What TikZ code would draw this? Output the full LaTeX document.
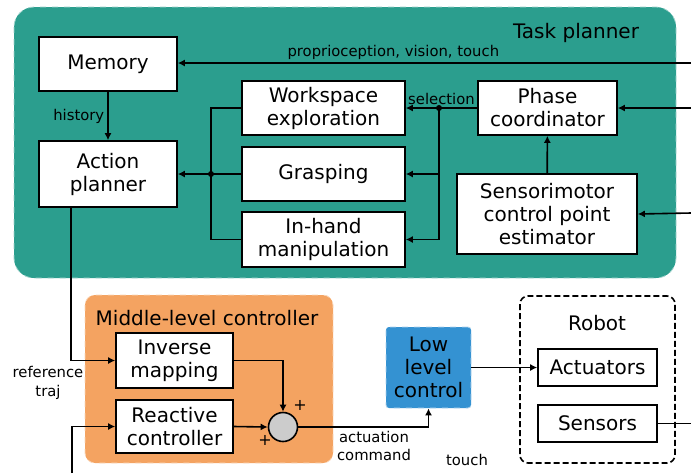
\documentclass[tikz,border=0pt]{standalone}
\usepackage{fontspec}
\setmainfont{DejaVu Sans}
\usetikzlibrary{arrows.meta}
\definecolor{taskgreen}{RGB}{43,158,142}
\definecolor{midorange}{RGB}{244,163,97}
\definecolor{lowblue}{RGB}{52,146,210}

\begin{document}
\begin{tikzpicture}
[x=0.5pt,y=-0.5pt,
every node/.style={align=center,font=\fontsize{10}{11.5}\selectfont},
block/.style={shape=rectangle,draw,fill=white,line width=0.8pt,inner sep=0pt},
lbl/.style={font=\fontsize{7.4}{9.2}\selectfont,inner sep=1.5pt},
link/.style={line width=0.8pt,-{Latex[length=3.5pt,width=3.5pt]}},
wire/.style={line width=0.8pt},
junction/.style={circle,fill,inner sep=0pt,minimum size=3pt}]

\useasboundingbox (0,0) rectangle (691,473);

% containers
\path[fill=taskgreen,draw=white!55!taskgreen,dashed,line width=0.4pt,rounded corners=10pt]
  (14,7) rectangle (676,278);
\path[fill=midorange,draw=white!55!midorange,dashed,line width=0.4pt,rounded corners=5pt]
  (85,295) rectangle (333,463);
\draw[line width=0.8pt,dash pattern=on 3pt off 1.5pt,rounded corners=4pt]
  (520,296) rectangle (675,463);
\node (tasktitle) at (576,33) {Task planner};
\node (midtitle) at (207,318) {Middle-level controller};
\node (robtitle) at (597,323) {Robot};

% task planner
\node[block,minimum width=69pt,minimum height=27pt] (mem) at (108,64) {Memory};
\node[block,minimum width=69pt,minimum height=33pt] (act) at (108,174) {Action\\planner};
\node[block,minimum width=81.5pt,minimum height=27pt] (ws) at (323.5,108) {Workspace\\exploration};
\node[block,minimum width=81.5pt,minimum height=27pt] (gr) at (323.5,174) {Grasping};
\node[block,minimum width=81.5pt,minimum height=27.5pt] (inh) at (323.5,239.5) {In-hand\\manipulation};
\node[block,minimum width=69.5pt,minimum height=27pt] (ph) at (547.5,108) {Phase\\coordinator};
\node[block,minimum width=90pt,minimum height=40pt] (sm) at (547,214) {Sensorimotor\\control point\\estimator};

% middle level controller
\node[block,minimum width=58.5pt,minimum height=27.5pt] (inv) at (174.5,360.5) {Inverse\\mapping};
\node[block,minimum width=58.5pt,minimum height=26.5pt] (rc) at (174.5,426.5) {Reactive\\controller};
\node[circle,draw,fill=black!20,line width=0.8pt,minimum size=14.5pt,inner sep=0pt] (sum) at (283,427) {};
\node[font=\fontsize{8}{9}\selectfont] (plusa) at (300,405) {+};
\node[font=\fontsize{8}{9}\selectfont] (plusb) at (265,440) {+};

% low level and robot
\node[block,fill=lowblue,draw=white!60!lowblue,dashed,line width=0.4pt,rounded corners=1.5pt,
  minimum width=42.5pt,minimum height=40.5pt] (low) at (428.5,367.5) {Low\\level\\control};
\node[block,minimum width=59.5pt,minimum height=18.5pt] (actu) at (597.5,367.5) {Actuators};
\node[block,minimum width=59.5pt,minimum height=18.5pt] (sen) at (597.5,423.5) {Sensors};

% free ends
\coordinate (pin) at (691,63);
\coordinate (phin) at (691,108);
\coordinate (smin) at (691,213);
\coordinate (refx) at (71,363);
\coordinate (tin) at (72,473);
\coordinate (sout) at (691,423.5);
\coordinate (bus) at (211,174);
\coordinate (sel) at (439,108);

% connectors
\draw[link] (pin) -- node[lbl,above,pos=0.58] {proprioception, vision, touch} (pin -| mem.east);
\draw[link] (phin) -- (ph.east);
\draw[link] (smin) -- (sm.east);
\draw[link] (mem) -- node[lbl,left] {history} (act);
\draw[wire] (ws.west) -| (bus |- inh.west) -- (inh.west);
\draw[wire] (gr.west) -- (bus);
\draw[link] (bus) -- (act.east);
\node[junction] (busdot) at (bus) {};
\draw[link] (ph.west) -- node[lbl,above] {selection} (ws.east);
\draw[link] (sel) |- (inh.east);
\draw[link] (sel |- gr.east) -- (gr.east);
\node[junction] (seldot) at (sel) {};
\draw[link] (sm) -- (ph);

\draw[link] (refx |- act.south) |- (inv.west);
\draw[link] (tin) |- (rc.west);
\draw[link] (inv.east) -| (sum.north);
\draw[link] (rc.east) -- (sum.west);
\draw[link] (sum.east) -| (low.south);
\draw[link] (low.east) -- (actu.west);
\draw[wire] (sen.east) -- (sout);

\node[lbl] (reflbl) at (48,383) {reference\\traj};
\node[lbl] (actlbl) at (374,446) {actuation\\command};
\node[lbl] (touchlbl) at (467,460) {touch};
\end{tikzpicture}
\end{document}
